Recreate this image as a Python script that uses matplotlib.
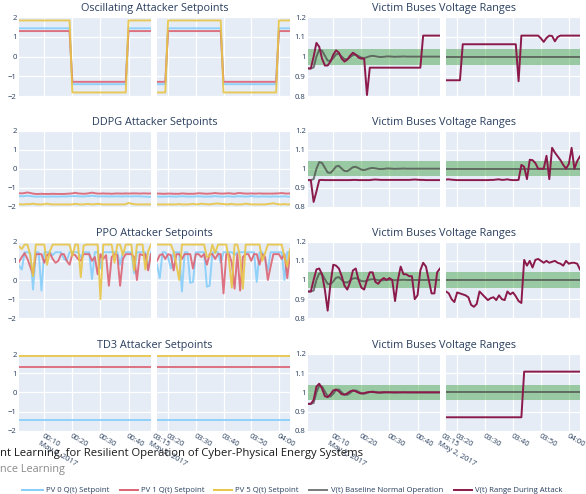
import numpy as np
import matplotlib
matplotlib.use("Agg")
import matplotlib.pyplot as plt
from matplotlib.lines import Line2D

plt.rcParams['font.family'] = ['Open Sans', 'DejaVu Sans']

# ---------------------------------------------------------------- data ----
# time in minutes after midnight, May 2 2017
t_early = np.arange(1, 49)      # 00:01 .. 00:48
t_late = np.arange(196, 245)    # 03:16 .. 04:04

# --- Oscillating attacker setpoints (step changes)
osc_t_early = [1, 19, 20, 39, 40, 48]
osc_pv0_early = [1.44, 1.44, -1.40, -1.40, 1.44, 1.44]
osc_pv1_early = [1.30, 1.30, -1.28, -1.28, 1.30, 1.30]
osc_pv5_early = [1.84, 1.84, -1.82, -1.82, 1.84, 1.84]
osc_t_late = [196, 199, 200, 219, 220, 239, 240, 244]
osc_pv0_late = [-1.40, -1.40, 1.44, 1.44, -1.40, -1.40, 1.44, 1.44]
osc_pv1_late = [-1.28, -1.28, 1.30, 1.30, -1.28, -1.28, 1.30, 1.30]
osc_pv5_late = [-1.82, -1.82, 1.84, 1.84, -1.82, -1.82, 1.84, 1.84]

osc_v_early = [
    0.940, 0.940, 1.000, 1.070, 1.050, 0.990, 0.955, 0.955, 0.975, 1.010,
    1.032, 1.020, 0.990, 0.975, 0.985, 1.005, 1.020, 1.010, 0.995, 0.990,
    0.990, 0.805, 0.944, 0.944, 0.944, 0.944, 0.944, 0.944, 0.944, 0.944,
    0.944, 0.944, 0.944, 0.944, 0.944, 0.944, 0.944, 0.944, 0.944, 0.944,
    0.944, 1.107, 1.107, 1.107, 1.107, 1.107, 1.107, 1.107]
osc_v_late = [
    0.880, 0.880, 0.880, 0.880, 0.880, 0.880, 1.063, 1.063, 1.063, 1.063,
    1.063, 1.063, 1.063, 1.063, 1.063, 1.063, 1.063, 1.063, 1.063, 1.063,
    1.063, 1.063, 1.063, 1.063, 1.063, 1.063, 0.875, 1.107, 1.107, 1.107,
    1.107, 1.107, 1.107, 1.107, 1.093, 1.075, 1.095, 1.107, 1.105, 1.078,
    1.100, 1.107, 1.107, 1.107, 1.107, 1.107, 1.107, 1.107, 1.107]

# --- DDPG attacker setpoints
ddpg_pv0_early = [
    -1.44, -1.45, -1.44, -1.42, -1.44, -1.46, -1.47, -1.47, -1.46, -1.47,
    -1.47, -1.47, -1.46, -1.47, -1.47, -1.46, -1.46, -1.46, -1.45, -1.45,
    -1.44, -1.45, -1.46, -1.46, -1.45, -1.44, -1.42, -1.44, -1.46, -1.46,
    -1.45, -1.46, -1.46, -1.46, -1.46, -1.45, -1.46, -1.46, -1.45, -1.46,
    -1.46, -1.45, -1.45, -1.46, -1.46, -1.47, -1.48, -1.48]
ddpg_pv1_early = [
    -1.29, -1.30, -1.28, -1.25, -1.28, -1.31, -1.33, -1.33, -1.32, -1.33,
    -1.33, -1.33, -1.32, -1.33, -1.33, -1.33, -1.33, -1.32, -1.31, -1.30,
    -1.27, -1.30, -1.31, -1.32, -1.31, -1.29, -1.26, -1.29, -1.31, -1.31,
    -1.30, -1.31, -1.31, -1.32, -1.31, -1.30, -1.31, -1.31, -1.30, -1.31,
    -1.30, -1.30, -1.30, -1.31, -1.30, -1.30, -1.31, -1.30]
ddpg_pv5_early = [
    -1.87, -1.88, -1.88, -1.86, -1.87, -1.84, -1.87, -1.88, -1.88, -1.87,
    -1.84, -1.87, -1.88, -1.88, -1.88, -1.88, -1.88, -1.88, -1.88, -1.88,
    -1.85, -1.87, -1.88, -1.88, -1.86, -1.86, -1.88, -1.87, -1.85, -1.87,
    -1.88, -1.88, -1.88, -1.88, -1.88, -1.88, -1.88, -1.88, -1.87, -1.80,
    -1.84, -1.87, -1.88, -1.88, -1.88, -1.88, -1.88, -1.88]
ddpg_pv0_late = [
    -1.46, -1.47, -1.47, -1.47, -1.46, -1.46, -1.47, -1.47, -1.46, -1.45,
    -1.46, -1.47, -1.47, -1.47, -1.46, -1.45, -1.46, -1.47, -1.47, -1.47,
    -1.46, -1.44, -1.46, -1.47, -1.47, -1.46, -1.45, -1.47, -1.47, -1.45,
    -1.45, -1.46, -1.47, -1.46, -1.44, -1.46, -1.47, -1.47, -1.46, -1.46,
    -1.47, -1.47, -1.46, -1.46, -1.47, -1.46, -1.45, -1.47, -1.48]
ddpg_pv1_late = [
    -1.31, -1.31, -1.32, -1.32, -1.31, -1.31, -1.32, -1.32, -1.32, -1.30,
    -1.31, -1.32, -1.32, -1.32, -1.31, -1.29, -1.30, -1.31, -1.32, -1.31,
    -1.30, -1.28, -1.30, -1.31, -1.31, -1.30, -1.29, -1.31, -1.32, -1.29,
    -1.28, -1.30, -1.31, -1.31, -1.30, -1.31, -1.31, -1.30, -1.31, -1.31,
    -1.31, -1.31, -1.31, -1.30, -1.30, -1.28, -1.30, -1.31, -1.30]
ddpg_pv5_late = [
    -1.88, -1.88, -1.88, -1.88, -1.88, -1.88, -1.88, -1.88, -1.86, -1.88,
    -1.88, -1.88, -1.87, -1.85, -1.88, -1.87, -1.84, -1.86, -1.87, -1.88,
    -1.86, -1.84, -1.83, -1.85, -1.86, -1.88, -1.87, -1.85, -1.88, -1.88,
    -1.88, -1.87, -1.84, -1.86, -1.88, -1.88, -1.88, -1.88, -1.88, -1.88,
    -1.86, -1.84, -1.82, -1.85, -1.88, -1.88, -1.86, -1.88, -1.88]

ddpg_v_early = [
    0.940, 0.940, 0.825, 0.880, 0.940, 0.941, 0.940, 0.940, 0.940, 0.940,
    0.940, 0.940, 0.940, 0.940, 0.940, 0.940, 0.941, 0.941, 0.940, 0.940,
    0.940, 0.940, 0.940, 0.942, 0.943, 0.942, 0.941, 0.941, 0.941, 0.941,
    0.941, 0.941, 0.941, 0.941, 0.941, 0.941, 0.941, 0.942, 0.943, 0.942,
    0.941, 0.941, 0.940, 0.940, 0.940, 0.940, 0.940, 0.940]
ddpg_v_late = [
    0.943, 0.944, 0.942, 0.941, 0.940, 0.940, 0.940, 0.940, 0.940, 0.940,
    0.940, 0.940, 0.940, 0.940, 0.940, 0.940, 0.941, 0.941, 0.943, 0.944,
    0.941, 0.942, 0.944, 0.941, 0.940, 0.940, 0.941, 1.020, 1.010, 0.945,
    1.047, 1.045, 1.030, 1.000, 1.000, 1.000, 1.068, 0.945, 1.110, 1.085,
    1.065, 1.045, 1.020, 1.000, 1.025, 1.110, 1.000, 1.040, 1.065]

# --- PPO attacker setpoints
ppo_pv0_early = [
    0.75, 0.55, 1.45, 1.45, 1.40, -0.50, 1.45, 1.45, -0.55, 1.45,
    1.45, 1.45, 1.30, 1.45, 1.45, 1.45, 1.10, 1.00, 1.45, 1.45,
    1.45, 1.45, 1.20, 1.45, 1.45, 1.45, 0.05, 1.45, 1.45, 0.60,
    1.45, 1.45, 1.45, 1.45, 1.45, 1.45, 0.80, 1.45, 1.45, 1.45,
    1.45, 0.35, 1.45, 1.45, 1.45, 1.45, 0.60, 1.45]
ppo_pv1_early = [
    0.95, 1.20, 1.40, 1.10, 0.70, 0.30, 1.35, 1.35, 1.35, 0.90,
    1.30, 1.40, 1.10, 0.90, 1.00, 1.35, 1.35, 1.00, 0.80, 1.35,
    1.30, 1.10, 1.00, 1.35, 1.35, 1.35, 1.00, 1.20, 0.30, 1.35,
    1.10, 1.30, -0.30, 1.20, 1.35, 1.30, -0.30, 1.10, 1.35, 1.35,
    1.35, 1.20, 0.00, 1.35, 1.30, 1.35, 0.50, 1.35]
ppo_pv5_early = [
    1.75, 1.62, 1.85, 1.85, 1.30, 0.20, 1.85, 1.85, 1.85, 1.85,
    0.80, 1.50, 1.85, 1.85, 1.85, 1.85, 1.85, 1.85, 1.85, 1.25,
    1.85, 1.85, 0.15, 1.80, 1.85, 1.85, 1.85, 1.85, 1.85, -1.00,
    1.85, 1.85, 1.85, 1.85, 0.90, 1.85, 1.85, 1.30, 1.85, 1.85,
    1.85, 0.50, 1.85, 1.85, 1.85, 0.55, 1.50, 1.85]
ppo_pv0_late = [
    0.80, 0.10, 1.45, 1.45, 1.20, 0.60, 1.45, 1.45, 1.45, -0.60,
    1.45, 1.45, -0.15, -0.10, 1.45, 1.45, 1.45, 1.45, -0.35, -0.30,
    1.45, 1.45, 1.45, 0.90, 1.45, 1.45, 1.45, 1.45, 1.30, 1.45,
    1.45, 1.45, 1.45, 1.45, 1.45, 1.45, -0.10, 1.45, 1.45, 1.10,
    0.50, 1.45, 1.45, 1.45, 1.45, 1.45, 0.00, 1.45, 1.45]
ppo_pv1_late = [
    1.00, 1.30, 1.35, 1.10, 1.35, 1.30, 0.50, 1.35, 1.35, 1.10,
    1.35, 1.35, 1.35, 0.60, 1.35, 1.35, 1.20, 1.35, 0.80, 1.35,
    1.35, 1.10, 1.35, 1.35, -0.70, 1.35, 1.35, 0.90, -0.45, 1.35,
    -0.55, 1.20, 1.35, 1.35, 1.00, 1.35, 1.35, 0.80, 1.35, 1.20,
    0.00, 0.70, 1.35, 1.35, 1.35, 1.10, 1.35, 0.10, 1.35]
ppo_pv5_late = [
    1.85, 1.85, 1.85, 1.85, 1.85, 1.85, 1.50, 0.80, 0.00, 1.85,
    1.85, 1.85, 1.85, 1.85, 1.85, 1.85, 1.85, 1.85, 1.20, 1.25,
    1.85, 1.40, 1.85, 1.85, 1.85, 1.85, 1.00, -0.40, 1.85, 1.85,
    1.20, -0.45, 1.85, 1.85, 1.85, 1.85, 1.85, 1.85, 1.00, 1.40,
    1.85, 1.85, 1.85, 1.85, 1.85, 1.85, 1.20, 0.70, 1.60]

ppo_v_early = [
    0.940, 0.940, 1.000, 1.055, 1.060, 1.030, 0.950, 0.840, 0.980, 1.080,
    1.075, 1.060, 1.020, 0.970, 0.950, 0.990, 1.050, 1.060, 1.000, 0.960,
    0.950, 1.000, 1.040, 1.040, 0.990, 0.980, 1.000, 1.010, 1.000, 1.010,
    1.000, 0.890, 1.000, 1.070, 1.030, 1.030, 1.020, 1.020, 0.900, 0.920,
    1.050, 1.090, 1.070, 1.000, 0.930, 0.930, 1.040, 1.060]
ppo_v_late = [
    0.940, 0.930, 0.900, 0.885, 0.935, 0.930, 0.925, 0.920, 0.910, 0.870,
    0.860, 0.875, 0.940, 0.925, 0.910, 0.895, 0.905, 0.910, 0.895, 0.920,
    0.900, 0.895, 0.940, 0.925, 0.935, 0.915, 0.890, 0.880, 1.105, 1.075,
    1.100, 1.065, 1.105, 1.110, 1.100, 1.090, 1.100, 1.090, 1.095, 1.100,
    1.090, 1.085, 1.075, 1.100, 1.085, 1.090, 1.090, 1.085, 1.055]

# --- TD3 attacker setpoints (constant)
td3_t_early = [1, 48]
td3_t_late = [196, 244]
td3_pv0 = [-1.45, -1.45]
td3_pv1 = [1.34, 1.34]
td3_pv5 = [1.90, 1.90]

td3_v_early = [
    0.940, 0.940, 0.960, 1.030, 1.045, 1.020, 0.980, 0.975, 0.990, 1.010,
    1.015, 1.005, 0.990, 0.988, 0.995, 1.005, 1.010, 1.005, 0.998, 0.994,
    0.996, 1.000, 1.002, 1.002, 1.000, 0.999, 1.000, 1.001, 1.000, 1.000,
    1.000, 1.000, 1.000, 1.000, 1.000, 1.000, 1.000, 1.000, 1.000, 1.000,
    1.000, 1.000, 1.000, 1.000, 1.000, 1.000, 1.000, 1.000]
td3_v_late_t = [196, 223, 224, 244]
td3_v_late = [0.870, 0.870, 1.108, 1.108]

# --- baseline (normal operation) voltage, shared by all rows
baseline_early = [
    0.940, 0.940, 0.945, 1.000, 1.035, 1.030, 1.005, 0.980, 0.978, 0.993,
    1.012, 1.015, 1.000, 0.988, 0.987, 0.997, 1.008, 1.010, 1.003, 0.995,
    0.993, 0.997, 1.002, 1.004, 1.002, 0.999, 0.998, 0.999, 1.001, 1.001,
    1.000, 0.999, 1.000, 1.000, 1.001, 1.000, 1.000, 1.000, 1.000, 1.000,
    1.000, 1.000, 1.000, 1.000, 1.000, 1.000, 1.000, 1.000]
baseline_late_t = [196, 244]
baseline_late = [1.0, 1.0]
band_low, band_high = 0.96, 1.04

attackers = ["Oscillating", "DDPG", "PPO", "TD3"]
setpoint_rows = [
    ((osc_t_early, osc_pv0_early, osc_pv1_early, osc_pv5_early),
     (osc_t_late, osc_pv0_late, osc_pv1_late, osc_pv5_late)),
    ((t_early, ddpg_pv0_early, ddpg_pv1_early, ddpg_pv5_early),
     (t_late, ddpg_pv0_late, ddpg_pv1_late, ddpg_pv5_late)),
    ((t_early, ppo_pv0_early, ppo_pv1_early, ppo_pv5_early),
     (t_late, ppo_pv0_late, ppo_pv1_late, ppo_pv5_late)),
    ((td3_t_early, td3_pv0, td3_pv1, td3_pv5),
     (td3_t_late, td3_pv0, td3_pv1, td3_pv5)),
]
voltage_rows = [
    ((t_early, osc_v_early), (t_late, osc_v_late)),
    ((t_early, ddpg_v_early), (t_late, ddpg_v_late)),
    ((t_early, ppo_v_early), (t_late, ppo_v_late)),
    ((t_early, td3_v_early), (td3_v_late_t, td3_v_late)),
]

series_names = ["PV 0 Q(t) Setpoint", "PV 1 Q(t) Setpoint", "PV 5 Q(t) Setpoint",
                "V(t) Baseline Normal Operation", "V(t) Range During Attack"]

early_ticks = [10, 20, 30, 40]
early_labels = ["00:10\nMay 2, 2017", "00:20", "00:30", "00:40"]
late_ticks = [200, 210, 220, 230, 240]
late_labels = ["03:20", "03:30", "03:40", "03:50", "04:00"]
late_first_tick = 195
late_first_label = "03:15\nMay 2, 2017"

sp_ticks = [-2, -1, 0, 1, 2]
sp_labels = ["\u22122", "\u22121", "0", "1", "2"]
v_ticks = [0.8, 0.9, 1.0, 1.1, 1.2]
v_labels = ["0.8", "0.9", "1", "1.1", "1.2"]

# --------------------------------------------------------------- style ----
W, H = 586, 494
BG = "#E5ECF6"
TXT = "#2a3f5f"
C_PV0 = "#87CEFA"
C_PV1 = "#DC6474"
C_PV5 = "#E8C547"
C_BASE = "#4a4a4a"
C_ATT = "#8B1A4B"
C_BAND = "#2e9a2e"
TICK_FS = 5.6
TITLE_FS = 7.8

ROWS = [(17.3, 96.0), (130.7, 206.7), (241.7, 318.3), (354.0, 430.7)]
COLS = [(19, 151), (157, 290), (308, 440), (446, 580)]

fig = plt.figure(figsize=(W / 100, H / 100), dpi=100)


def add_px_axes(x0, x1, y0, y1):
    return fig.add_axes([x0 / W, 1 - y1 / H, (x1 - x0) / W, (y1 - y0) / H])


def base_style(ax, xlim, xticks, ylim, yticks, ylabels, xlabels):
    ax.set_facecolor(BG)
    for s in ax.spines.values():
        s.set_visible(False)
    ax.set_xlim(*xlim)
    ax.set_ylim(*ylim)
    ax.set_xticks(xticks)
    ax.set_yticks(yticks)
    ax.grid(True, color="white", linewidth=0.9)
    ax.set_axisbelow(True)
    ax.tick_params(length=0, labelsize=TICK_FS, labelcolor=TXT, pad=1.6)
    if ylabels is None:
        ax.set_yticklabels([])
    else:
        ax.set_yticklabels(ylabels)
    if xlabels is None:
        ax.set_xticklabels([])
    else:
        ax.set_xticklabels(xlabels)
        for lab in ax.get_xticklabels():
            lab.set_rotation(-30)
            lab.set_rotation_mode("anchor")
            lab.set_ha("left")
            lab.set_va("top")
        ax.tick_params(axis="x", pad=1.5)


for r, (y0, y1) in enumerate(ROWS):
    bottom = r == len(ROWS) - 1
    axs = [add_px_axes(c0, c1, y0, y1) for (c0, c1) in COLS]
    (sp_e, sp_l) = setpoint_rows[r]
    (v_e, v_l) = voltage_rows[r]

    # setpoint panels
    for ax, (tt, p0, p1, p5), xl, xt, xlab, ylab in (
        (axs[0], sp_e, (t_early[0], t_early[-1]), early_ticks, early_labels, sp_labels),
        (axs[1], sp_l, (t_late[0], t_late[-1]), late_ticks, late_labels, None),
    ):
        base_style(ax, xl, xt, (-2, 2), sp_ticks, ylab, xlab if bottom else None)
        ax.plot(tt, p0, color=C_PV0, lw=1.4, alpha=0.9, solid_joinstyle="round")
        ax.plot(tt, p1, color=C_PV1, lw=1.4, alpha=0.9, solid_joinstyle="round")
        ax.plot(tt, p5, color=C_PV5, lw=1.4, alpha=0.9, solid_joinstyle="round")

    # voltage panels
    for ax, (tt, vv), (bt, bv), xl, xt, xlab, ylab in (
        (axs[2], v_e, (t_early, baseline_early), (t_early[0], t_early[-1]),
         early_ticks, early_labels, v_labels),
        (axs[3], v_l, (baseline_late_t, baseline_late), (t_late[0], t_late[-1]),
         late_ticks, late_labels, None),
    ):
        base_style(ax, xl, xt, (0.8, 1.2), v_ticks, ylab, xlab if bottom else None)
        ax.axhspan(band_low, band_high, color=C_BAND, alpha=0.42, lw=0, zorder=1)
        ax.plot(bt, bv, color=C_BASE, lw=1.4, alpha=0.75, zorder=2,
                solid_joinstyle="round")
        ax.plot(tt, vv, color=C_ATT, lw=1.4, zorder=3, solid_joinstyle="round")

    if bottom:
        for ax in (axs[1], axs[3]):
            ax.annotate(late_first_label, xy=(late_first_tick, 0),
                        xycoords=("data", "axes fraction"),
                        xytext=(0, -1.5), textcoords="offset points",
                        rotation=-30, rotation_mode="anchor", ha="left",
                        va="top", fontsize=TICK_FS, color=TXT,
                        annotation_clip=False)

    ty = y0 - 8.5
    fig.text(((COLS[0][0] + COLS[1][1]) / 2) / W, 1 - ty / H,
             f"{attackers[r]} Attacker Setpoints", ha="center", va="center",
             fontsize=TITLE_FS, color=TXT)
    fig.text(((COLS[2][0] + COLS[3][1]) / 2) / W, 1 - ty / H,
             "Victim Buses Voltage Ranges", ha="center", va="center",
             fontsize=TITLE_FS, color=TXT)

# figure title and subtitle (placed below the grid)
fig.text(-0.5 / W, 1 - 453 / H,
         "nt Learning, for Resilient Operation of Cyber-Physical Energy Systems",
         ha="left", va="center", fontsize=8.1, color="#1a1a1a")
fig.text(-0.5 / W, 1 - 469 / H, "nce Learning", ha="left", va="center",
         fontsize=7.8, color="#8a8a8a")

# horizontal legend
legend_items = [
    (22, 43, 46, C_PV0),
    (120, 138, 141, C_PV1),
    (214, 232, 235, C_PV5),
    (309, 327, 331, "#7a7a7a"),
    (454, 472, 475, C_ATT),
]
ly = 1 - 490 / H
for (x0, x1, xt, col), name in zip(legend_items, series_names):
    fig.add_artist(Line2D([x0 / W, x1 / W], [ly, ly], transform=fig.transFigure,
                          color=col, lw=1.4))
    fig.text(xt / W, ly, name, ha="left", va="center", fontsize=TICK_FS, color=TXT)

fig.savefig("out.png", dpi=100, facecolor="white")
